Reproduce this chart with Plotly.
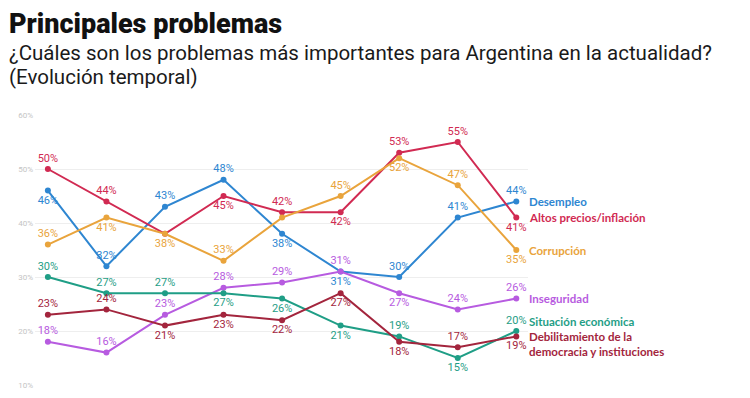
import plotly.graph_objects as go

# ---------------- data ----------------
waves = [1, 2, 3, 4, 5, 6, 7, 8, 9]  # survey waves (not labelled in the original)
desempleo = [46, 32, 43, 48, 38, 31, 30, 41, 44]
altos_precios = [50, 44, 38, 45, 42, 42, 53, 55, 41]
corrupcion = [36, 41, 38, 33, 41, 45, 52, 47, 35]
inseguridad = [18, 16, 23, 28, 29, 31, 27, 24, 26]
situacion_economica = [30, 27, 27, 27, 26, 21, 19, 15, 20]
debilitamiento = [23, 24, 21, 23, 22, 27, 18, 17, 19]

series_names = ["Desempleo", "Altos precios/inflación", "Corrupción", "Inseguridad",
                "Situación económica", "Debilitamiento de la<br>democracia y instituciones"]
y_ticks = [10, 20, 30, 40, 50, 60]
y_tick_labels = ["10%", "20%", "30%", "40%", "50%", "60%"]

# ---------------- styles ----------------
colors = ["#2e86d1", "#d12a52", "#e9a43c", "#b75be0", "#1f9e86", "#a3253d"]
# label placement per point: "t" above, "b" below, "" hidden
label_pos = [
    ["b", "t", "t", "t", "b", "b", "t", "t", "t"],
    ["t", "t", "", "b", "t", "b", "t", "t", "b"],
    ["t", "b", "b", "t", "", "t", "b", "t", "b"],
    ["t", "t", "t", "t", "t", "t", "b", "t", "t"],
    ["t", "t", "t", "b", "b", "b", "t", "b", "t"],
    ["t", "t", "b", "b", "b", "b", "b", "t", "b"],
]
end_label_offset = [0, 0, 0, 0, 1.7, -1.4]  # vertical nudge (in % units) of right-side names

all_series = [desempleo, altos_precios, corrupcion, inseguridad, situacion_economica, debilitamiento]

fig = go.Figure()
for i, (vals, name, col, pos) in enumerate(zip(all_series, series_names, colors, label_pos)):
    texts = [f"{v}%" if p else "" for v, p in zip(vals, pos)]
    tpos = ["top center" if p == "t" else "bottom center" for p in pos]
    fig.add_trace(go.Scatter(
        x=waves, y=vals, mode="lines+markers+text", name=name,
        line=dict(color=col, width=2), marker=dict(color=col, size=6),
        text=texts, textposition=tpos,
        textfont=dict(family="Roboto", size=11, color=col),
        cliponaxis=False, hoverinfo="skip",
    ))
    fig.add_annotation(
        x=waves[-1], y=vals[-1] + end_label_offset[i],
        xref="x", yref="y", text=f"<b>{name}</b>", showarrow=False,
        xanchor="left", yanchor="middle", xshift=11, align="left",
        font=dict(family="Lato", size=11.5, color=col),
    )

# page body has an 8px margin, so the figure is laid out 8px up/left of screen coordinates
OFF = 8
W, H = 750, 398
L, T = 35 - OFF, 115 - OFF
pw, ph = 493, 270
R, B = W - L - pw, H - T - ph

def px(xs):
    return (xs - OFF - L) / pw

def py(ys):
    return (H - B - (ys - OFF)) / ph

head_common = dict(xref="paper", yref="paper", xanchor="left", yanchor="middle",
                   showarrow=False, borderpad=0, borderwidth=0)
fig.add_annotation(x=px(8.5), y=py(24.5), text="Principales problemas",
                   font=dict(family="Roboto", size=27, color="#111111", weight=900), **head_common)
fig.add_annotation(x=px(8.5), y=py(52.5),
                   text="¿Cuáles son los problemas más importantes para Argentina en la actualidad?",
                   font=dict(family="Roboto", size=20.5, color="#1a1a1a"), **head_common)
fig.add_annotation(x=px(8.5), y=py(76.5), text="(Evolución temporal)",
                   font=dict(family="Roboto", size=20.5, color="#1a1a1a"), **head_common)

fig.update_layout(
    width=W, height=H, margin=dict(l=L, r=R, t=T, b=B, autoexpand=False),
    paper_bgcolor="white", plot_bgcolor="white", showlegend=False,
    xaxis=dict(range=[waves[0] - 0.22, waves[-1] + 0.2], visible=False, automargin=False),
    yaxis=dict(range=[10, 60], tickvals=y_ticks, ticktext=y_tick_labels, showgrid=True,
               gridcolor="#eeeeee", gridwidth=1, zeroline=False, showline=False, automargin=False,
               tickfont=dict(family="Roboto", size=8, color="#c4c4c4"), ticklabelstandoff=1),
)

fig.write_html("out.html")
